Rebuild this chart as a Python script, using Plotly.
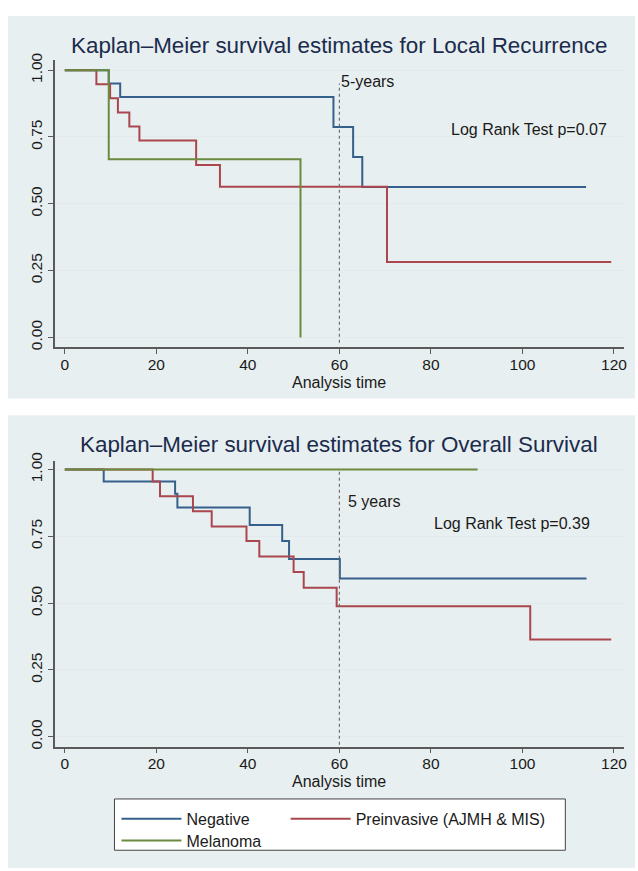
import plotly.graph_objects as go
from plotly.subplots import make_subplots

# ---------------- data ----------------
groups = ["Negative", "Preinvasive (AJMH & MIS)", "Melanoma"]

# Local recurrence (top panel)
lr_time_neg = [0, 9.6, 12.1, 58.7, 63.0, 65.0, 113.9]
lr_surv_neg = [1.0, 0.95, 0.90, 0.7875, 0.675, 0.5625, 0.5625]
lr_time_pre = [0, 6.9, 9.9, 11.6, 14.1, 16.3, 28.7, 33.9, 70.4, 119.4]
lr_surv_pre = [1.0, 0.947, 0.895, 0.842, 0.789, 0.737, 0.645, 0.564, 0.282, 0.282]
lr_time_mel = [0, 9.6, 51.5]
lr_surv_mel = [1.0, 0.667, 0.0]

# Overall survival (bottom panel)
os_time_neg = [0, 8.5, 24.1, 24.6, 40.4, 47.5, 49.0, 60.1, 114.0]
os_surv_neg = [1.0, 0.955, 0.909, 0.858, 0.792, 0.733, 0.665, 0.592, 0.592]
os_time_pre = [0, 19.2, 20.8, 28.0, 32.1, 39.7, 42.5, 50.0, 52.2, 59.4, 101.7, 119.4]
os_surv_pre = [1.0, 0.955, 0.900, 0.844, 0.787, 0.733, 0.675, 0.617, 0.558, 0.488, 0.364, 0.364]
os_time_mel = [0, 90.2]
os_surv_mel = [1.0, 1.0]

titles = ["Kaplan\u2013Meier survival estimates for Local Recurrence",
          "Kaplan\u2013Meier survival estimates for Overall Survival"]
five_year_labels = ["5-years", "5 years"]
logrank_labels = ["Log Rank Test p=0.07", "Log Rank Test p=0.39"]
x_ticks = [0, 20, 40, 60, 80, 100, 120]
y_ticks = [0, 0.25, 0.5, 0.75, 1.0]
y_ticklabels = ["0.00", "0.25", "0.50", "0.75", "1.00"]
five_years = 60

# ---------------- styling ----------------
W, H = 638, 871
FONT = "Liberation Sans, Arial, Helvetica, sans-serif"
colors = {"Negative": "#36608c", "Preinvasive (AJMH & MIS)": "#a9464e", "Melanoma": "#6a8a3e"}
legend_of = {"Negative": "legend", "Preinvasive (AJMH & MIS)": "legend3", "Melanoma": "legend2"}
panel_bg = "#e8eff0"
grid_c = "#e3eaec"
axis_c = "#5a5a5a"
title_c = "#1b2b4d"
txt_c = "#1a1a1a"

fig = make_subplots(rows=2, cols=1)

def py(p):  # pixel (from top) to paper y
    return 1 - p / H

def px(p):
    return p / W

panels = [
    (lr_time_neg, lr_surv_neg, lr_time_pre, lr_surv_pre, lr_time_mel, lr_surv_mel),
    (os_time_neg, os_surv_neg, os_time_pre, os_surv_pre, os_time_mel, os_surv_mel),
]

for i, (tn, sn, tp, sp, tm, sm) in enumerate(panels):
    r = i + 1
    for name, t, s in [(groups[0], tn, sn), (groups[1], tp, sp), (groups[2], tm, sm)]:
        fig.add_trace(go.Scatter(
            x=t, y=s, mode="lines", line=dict(color=colors[name], width=2, shape="hv"),
            name=name, legendgroup=name, showlegend=(i == 0), legend=legend_of[name],
        ), row=r, col=1)

# axis geometry
x_dom = [px(55), px(627)]
x_rng = [-2.2, 122.2]
y_doms = [[py(343), py(52)], [py(748), py(458)]]
y_rngs = [[-0.037, 1.037], [-0.037, 1.033]]

tickfont = dict(family=FONT, size=15.5, color=txt_c)
for i in range(2):
    xa = "xaxis" if i == 0 else "xaxis2"
    ya = "yaxis" if i == 0 else "yaxis2"
    fig.update_layout(**{
        xa: dict(domain=x_dom, range=x_rng, tickvals=x_ticks, ticks="outside", ticklen=5,
                 tickcolor=axis_c, tickwidth=1.2, showgrid=False, zeroline=False, showline=True,
                 linecolor=axis_c, linewidth=1.5, tickfont=tickfont, ticklabelstandoff=-3,
                 anchor="y" if i == 0 else "y2"),
        ya: dict(domain=y_doms[i], range=y_rngs[i], tickvals=y_ticks, ticktext=y_ticklabels,
                 tickangle=-90, ticks="outside", ticklen=5, tickcolor=axis_c, tickwidth=1.2,
                 showgrid=True, gridcolor=grid_c, gridwidth=1.2, zeroline=False, showline=True,
                 linecolor=axis_c, linewidth=1.5, tickfont=tickfont,
                 anchor="x" if i == 0 else "x2"),
    })

shapes = [
    dict(type="rect", xref="paper", yref="paper", x0=px(8), x1=1, y0=py(395), y1=py(7),
         fillcolor=panel_bg, line=dict(width=0), layer="below"),
    dict(type="rect", xref="paper", yref="paper", x0=px(8), x1=1, y0=0, y1=py(412),
         fillcolor=panel_bg, line=dict(width=0), layer="below"),
    # legend frame
    dict(type="rect", xref="paper", yref="paper", x0=px(115), x1=px(568), y0=py(853), y1=py(801),
         fillcolor="white", line=dict(color="#444444", width=1), layer="below"),
    dict(type="line", xref="x", yref="y", x0=five_years, x1=five_years, y0=-0.02, y1=0.95,
         line=dict(color="#707070", width=1.2, dash="dot")),
    dict(type="line", xref="x2", yref="y2", x0=five_years, x1=five_years, y0=-0.03, y1=1.0,
         line=dict(color="#707070", width=1.2, dash="dot")),
]

lab = dict(family=FONT, size=16, color=txt_c)
annotations = [
    dict(text=titles[0], xref="paper", yref="paper", x=px(341), y=py(37), showarrow=False,
         xanchor="center", yanchor="middle", font=dict(family=FONT, size=22.4, color=title_c)),
    dict(text=titles[1], xref="paper", yref="paper", x=px(341), y=py(442), showarrow=False,
         xanchor="center", yanchor="middle", font=dict(family=FONT, size=22.4, color=title_c)),
    dict(text="Analysis time", xref="paper", yref="paper", x=px(341), y=py(379), showarrow=False,
         xanchor="center", yanchor="middle", font=lab),
    dict(text="Analysis time", xref="paper", yref="paper", x=px(341), y=py(783), showarrow=False,
         xanchor="center", yanchor="middle", font=lab),
    dict(text=five_year_labels[0], xref="x", yref="y", x=five_years, y=0.956, showarrow=False,
         xanchor="left", yanchor="middle", font=lab),
    dict(text=logrank_labels[0], xref="x", yref="y", x=118.9, y=0.779, showarrow=False,
         xanchor="right", yanchor="middle", font=lab),
    dict(text=five_year_labels[1], xref="x2", yref="y2", x=61.5, y=0.882, showarrow=False,
         xanchor="left", yanchor="middle", font=lab),
    dict(text=logrank_labels[1], xref="x2", yref="y2", x=115.2, y=0.797, showarrow=False,
         xanchor="right", yanchor="middle", font=lab),
]

leg_common = dict(orientation="h", xanchor="left", yanchor="top",
                  bgcolor="rgba(0,0,0,0)", borderwidth=0,
                  font=dict(family=FONT, size=16, color=txt_c),
                  itemwidth=60, traceorder="normal")

fig.update_layout(
    width=W, height=H, margin=dict(l=0, r=0, t=0, b=0),
    paper_bgcolor="white", plot_bgcolor="white",
    shapes=shapes, annotations=annotations,
    showlegend=True,
    legend=dict(x=px(117), y=py(804), **leg_common),
    legend3=dict(x=px(287), y=py(804), **leg_common),
    legend2=dict(x=px(117), y=py(826), **leg_common),
)

fig.write_html("out.html", config={"displayModeBar": False},
               post_script="document.body.style.margin='0';"
                           "document.documentElement.style.overflow='hidden';")
